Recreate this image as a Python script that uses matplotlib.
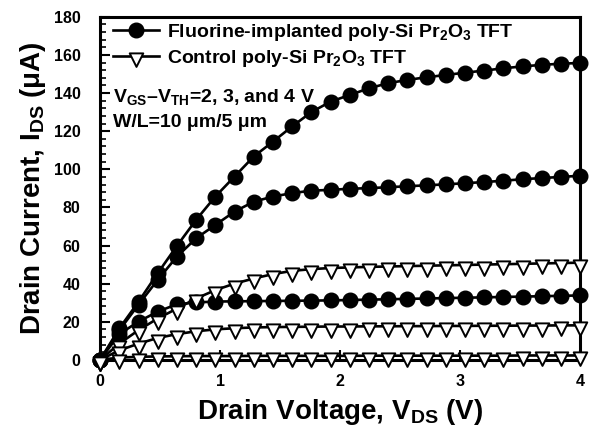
import numpy as np
import matplotlib
matplotlib.use("Agg")
import matplotlib.pyplot as plt
from matplotlib.path import Path
from matplotlib.ticker import MultipleLocator

plt.rcParams['font.family'] = ['Liberation Sans', 'DejaVu Sans']
plt.rcParams['font.weight'] = 'bold'
plt.rcParams['mathtext.fontset'] = 'custom'
plt.rcParams['mathtext.rm'] = 'Liberation Sans:bold'
plt.rcParams['mathtext.bf'] = 'Liberation Sans:bold'
plt.rcParams['mathtext.it'] = 'Liberation Sans:bold'
plt.rcParams['mathtext.default'] = 'bf'

# Drain voltage (V)
vds = [0.00, 0.16, 0.32, 0.48, 0.64, 0.80, 0.96, 1.12, 1.28, 1.44, 1.60, 1.76, 1.92,
       2.08, 2.24, 2.40, 2.56, 2.72, 2.88, 3.04, 3.20, 3.36, 3.52, 3.68, 3.84, 4.00]

# Fluorine-implanted, VGS-VTH = 4, 3, 2 V (uA)
fl_4 = [0, 16.5, 30.5, 45.5, 59.8, 73.5, 85.7, 96.2, 106.7, 114.5, 122.5, 130.0, 135.5,
        139.0, 142.5, 145.2, 146.9, 148.3, 149.5, 150.7, 151.8, 153.0, 154.0, 154.8, 155.4, 155.8]
fl_3 = [0, 15.5, 29.0, 42.0, 54.2, 63.8, 70.8, 77.8, 83.0, 85.7, 87.5, 88.8, 89.2,
        89.8, 90.1, 90.6, 91.1, 91.6, 92.1, 92.7, 93.3, 94.0, 94.8, 95.4, 96.0, 96.6]
fl_2 = [0, 13.5, 20.1, 25.3, 29.2, 30.1, 30.6, 30.7, 30.8, 30.9, 31.0, 31.1, 31.2,
        31.4, 31.6, 31.8, 32.0, 32.2, 32.4, 32.6, 32.8, 33.0, 33.2, 33.4, 33.6, 33.8]

# Control, VGS-VTH = 4, 3, 2 V (uA)
ct_4 = [0, 8.5, 15.6, 21.7, 26.9, 32.2, 36.6, 40.0, 42.7, 45.0, 46.7, 47.6, 48.2,
        48.5, 48.8, 49.0, 49.2, 49.4, 49.6, 49.8, 50.0, 50.2, 50.4, 50.6, 50.8, 51.0]
ct_3 = [0, 5.0, 8.5, 11.5, 13.5, 15.0, 16.0, 16.6, 17.0, 17.2, 17.3, 17.4, 17.5,
        17.5, 17.6, 17.6, 17.7, 17.7, 17.8, 17.8, 17.9, 17.9, 18.0, 18.0, 18.1, 18.1]
ct_2 = [0, 1.2, 1.6, 1.8, 1.9, 2.0, 2.0, 2.0, 2.1, 2.1, 2.1, 2.1, 2.1,
        2.1, 2.2, 2.2, 2.2, 2.2, 2.2, 2.2, 2.2, 2.2, 2.3, 2.3, 2.3, 2.3]

xticks = [0, 1, 2, 3, 4]
yticks = [0, 20, 40, 60, 80, 100, 120, 140, 160, 180]

tri = Path([(-1, 0.46), (1, 0.46), (0, -1.54), (-1, 0.46)],
           [Path.MOVETO, Path.LINETO, Path.LINETO, Path.CLOSEPOLY])

fig = plt.figure(figsize=(5.89, 4.32), dpi=100)
ax = fig.add_axes([0.170, 0.167, 0.815, 0.794])

circ_kw = dict(color='black', lw=1.9, marker='o', ms=10.5, mfc='black', mec='black', mew=1)
tri_kw = dict(color='black', lw=1.9, marker=tri, ms=15, mfc='white', mec='black', mew=1.4)

for i, s in enumerate([fl_4, fl_3, fl_2]):
    ax.plot(vds, s, clip_on=False, zorder=3, label='Fluorine-implanted poly-Si Pr$_2$O$_3$ TFT' if i == 0 else None, **circ_kw)
for i, s in enumerate([ct_4, ct_3, ct_2]):
    ax.plot(vds, s, clip_on=False, zorder=4, label='Control poly-Si Pr$_2$O$_3$ TFT' if i == 0 else None, **tri_kw)

ax.set_xlim(0, 4)
ax.set_ylim(0, 180)
ax.set_xticks(xticks)
ax.set_yticks(yticks)
ax.yaxis.set_minor_locator(MultipleLocator(4))
ax.tick_params(axis='both', which='major', direction='in', length=7, width=1.5, labelsize=11.5)
ax.tick_params(axis='y', which='minor', direction='in', length=4, width=1.2)
ax.tick_params(axis='x', which='major', pad=10)
ax.tick_params(axis='y', which='major', pad=14)
for sp in ax.spines.values():
    sp.set_linewidth(2.2)
for lab in ax.get_xticklabels() + ax.get_yticklabels():
    lab.set_fontweight('bold')

ax.set_xlabel('Drain Voltage, V$_{DS}$ (V)', fontsize=20, fontweight='bold', labelpad=6)
ax.set_ylabel('Drain Current, I$_{DS}$ ($\\mu$A)', fontsize=20, fontweight='bold', labelpad=4)

leg = ax.legend(loc='upper left', frameon=False, fontsize=14, handlelength=2.4,
                handletextpad=0.4, borderaxespad=0.0, labelspacing=0.25,
                bbox_to_anchor=(0.01, 1.008))
for t in leg.get_texts():
    t.set_fontweight('bold')

ax.text(0.027, 0.767, 'V$_{GS}$–V$_{TH}$=2, 3, and 4 V', transform=ax.transAxes,
        fontsize=14, fontweight='bold', va='center', ha='left')
ax.text(0.027, 0.692, 'W/L=10 μm/5 μm', transform=ax.transAxes,
        fontsize=14, fontweight='bold', va='center', ha='left')

fig.savefig('out.png', dpi=100)
